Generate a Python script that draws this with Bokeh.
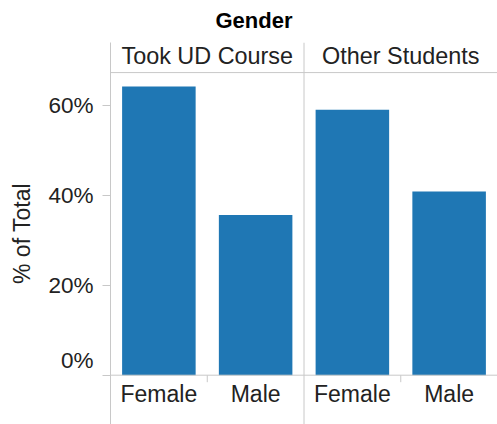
import math
from bokeh.plotting import figure
from bokeh.models import FactorRange, Span, FixedTicker, PrintfTickFormatter, Title
from bokeh.core.properties import value
from bokeh.embed import file_html
from bokeh.resources import INLINE

# ---- data ----
groups = ["Took UD Course", "Other Students"]
genders = ["Female", "Male"]
pct_took_ud = [64.3, 35.7]
pct_other = [59.1, 40.9]
y_ticks = [0, 20, 40, 60]
title_text = "Gender"
y_label = "% of Total"

factors = [(g, s) for g in groups for s in genders]
values = pct_took_ud + pct_other
sub_labels = [s for (_, s) in factors]

# ---- style ----
FONT = "Liberation Sans"
BLUE = "#1f77b4"
LINE = "#c8c8c8"
TEXT = "#222222"
Y_START, Y_END = -10.98, 74.1
HEADER_LINE_Y = 67.4

p = figure(
    width=497, height=424,
    x_range=FactorRange(*factors, factor_padding=0, group_padding=0, range_padding=0),
    y_range=(Y_START, Y_END),
    output_backend="svg", toolbar_location=None,
    x_axis_location=None,
    min_border_left=110, min_border_right=0, min_border_top=42, min_border_bottom=0,
)
p.outline_line_color = None
p.xgrid.visible = False
p.ygrid.visible = False
p.background_fill_color = "white"
p.border_fill_color = "white"

p.title = Title(text=title_text, align="left", offset=105, text_font=FONT,
                text_font_size="22px", text_font_style="bold", text_color="#000000",
                vertical_align="top", standoff=15)

# bars
p.vbar(x=factors, top=values, width=0.76, fill_color=BLUE, line_color=None)

# x axis line / header line / panel divider
p.add_layout(Span(location=0, dimension="width", line_color=LINE, line_width=1))
p.add_layout(Span(location=HEADER_LINE_Y, dimension="width", line_color=LINE, line_width=1))
p.add_layout(Span(location=2, dimension="height", line_color=LINE, line_width=1))

# group tick marks on the x axis
p.ray(x=groups, y=[0, 0], length=7, length_units="screen", angle=-math.pi / 2,
      line_color=LINE, line_width=1)

# group headers
p.text(x=groups, y=[Y_END, Y_END], text=groups, text_align="center",
       text_baseline="alphabetic", y_offset=13.3, text_font=value(FONT),
       text_font_size="23.4px", text_color=TEXT)

# category labels
p.text(x=factors, y=[0] * len(factors), text=sub_labels, text_align="center",
       text_baseline="alphabetic", y_offset=18.6, text_font=value(FONT),
       text_font_size="23px", text_color=TEXT)

# y axis (the bottom label is lifted above its tick, as in the original)
ax = p.yaxis[0]
ax.ticker = FixedTicker(ticks=y_ticks)
ax.formatter = PrintfTickFormatter(format="%d%%")
ax.major_label_overrides = {y_ticks[0]: "%d%%\n" % y_ticks[0]}
ax.axis_line_color = LINE
ax.major_tick_line_color = LINE
ax.major_tick_out = 8
ax.major_tick_in = 0
ax.minor_tick_line_color = None
ax.major_label_standoff = 9
ax.major_label_text_font = FONT
ax.major_label_text_font_size = "22.5px"
ax.major_label_text_color = TEXT
ax.axis_label = y_label
ax.axis_label_text_font = FONT
ax.axis_label_text_font_size = "23px"
ax.axis_label_text_font_style = "normal"
ax.axis_label_text_color = TEXT
ax.axis_label_standoff = 10

open("out.html", "w").write(file_html(p, INLINE))
